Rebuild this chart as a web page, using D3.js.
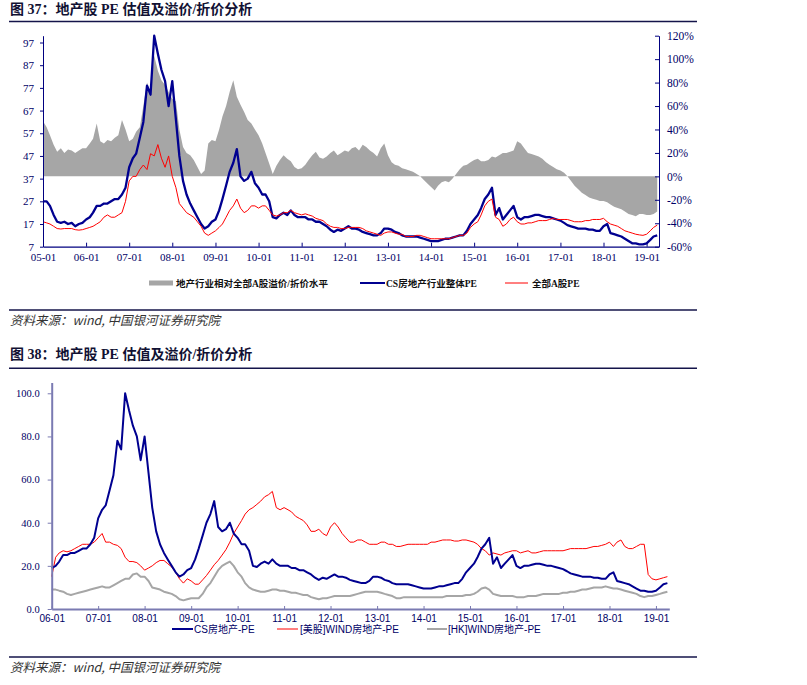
<!DOCTYPE html>
<html><head><meta charset="utf-8">
<script src="https://cdn.jsdelivr.net/npm/d3@7"></script>
<style>
body{margin:0;background:#fff}
svg{display:block}
text{font-kerning:normal}
</style>
</head><body>
<svg id="c" width="807" height="685"></svg>
<script>
// ---------- DATA ----------
// Monthly observations, panel 1 from 2005-01, panel 2 from 2006-01, both to 2019-04
const start1 = new Date(2005, 0, 1);
const start2 = new Date(2006, 0, 1);
const endMonth = new Date(2019, 4, 1);
const months1 = d3.timeMonth.range(start1, endMonth);
const months2 = d3.timeMonth.range(start2, endMonth);

// CS房地产行业整体PE (also "CS房地产-PE" in panel 2)
const csPE = [
  27,27,25,21,18,17.5,18,17,17.5,16,17,17.5,
  19,20,22,25,25,26,26,27,28,28,30,33,
  42,46,48,55,62,78,74,100,92,85,80,69,
  80,63,47,36,30,26,23,20,17,15,16,18,
  19,23,28,34,40,44,50,38,36,37,40,35,
  33,30,30,27,20,19.5,21,22,21,23,21,20,
  20,20,19,19,18,18,17,16,14.5,13.5,14.5,14,
  15,16,15,15,14.5,13.5,13,12.5,12,12,13,15,
  15,14.5,13.5,13,12,11.5,11.5,11.5,11.5,11,10.5,10,
  9.5,9.5,9.5,10,10.5,10.5,11,11.5,12,12,14,17,
  19,21,24,28,30,33,21,24,19,21,23,25,
  20,19,20,20,20.5,21,21,20.5,20,20,19.5,19,
  18.5,17.5,16.5,16,15.5,15,15,15,14.5,14.5,14,14,
  16,17,13,12.5,12,11.5,10.5,9.5,8.5,8.5,8,8,
  8.5,10,11.5,12
];
// 全部A股PE
const allAPE = [
  18,17.5,17,16,15,14.8,15,15,15,14.5,14.3,14.5,
  15,15.5,16,17,18,20,21,20,20,21,22,27,
  36,38,38,41,43,41,48,47,52,46,42,47,
  38,33,26,24,22,21,20,18,16,13,12,13,
  14,15.5,17,20,23,25,28,24,22,23,25,25,
  24,25,25,23,21,20.5,21,22,22,23,22,21.5,
  21,21.5,21,20.5,19.5,19,18.5,17,16,15.5,15.5,15,
  15,15.5,15.5,15.5,15.5,15,14,13.5,13,12.5,12,13,
  13.5,13.5,13,12.5,12.5,11.5,11.5,11.5,12,12,11.5,11,
  10.5,10.5,10.5,10.5,10.5,10.5,11,11.5,12,12,13,15.5,
  17,18,21,25,27,28,20,19,16,17,19,20,
  18,17,17,17.5,17.5,18,18.5,18.5,18.5,19,19.5,19,
  19,19,19,18.5,18,18,18,18.5,18.5,19,19,19,
  19.5,18,17,16.5,16,15,14,13.5,13,12.5,12.2,12,
  12.5,14,15.5,16.5
];
// 地产行业相对全部A股溢价/折价水平 (%)
const premium = [
  47,42,35,27,21,24,20,23,22,20,22,24,
  24,28,32,45,30,28,31,30,33,35,48,40,
  30,32,38,42,60,80,72,103,90,82,78,72,
  66,64,40,25,20,18,14,8,2,5,28,31,
  30,40,51,60,72,82,68,61,55,48,45,40,
  35,28,20,11,2,9,14,18,15,13,8,6,
  7,10,14,18,21,16,15,17,20,22,18,20,
  22,21,24,25,22,27,25,22,20,17,24,28,
  18,12,10,9,7,6,5,4,2,0,-3,-6,
  -9,-12,-8,-5,-4,-5,-2,2,6,9,10,12,
  14,15,13,13,14,17,16,18,20,20,21,22,
  30,28,24,20,19,18,17,15,12,10,8,6,
  5,3,0,-4,-8,-11,-14,-16,-18,-19,-20,-21,
  -21,-22,-24,-26,-27,-28,-30,-32,-33,-34,-32,-32,
  -33,-33,-32,-30
];
// [美股]WIND房地产-PE
const usPE = [
  15,24,26,27,26.5,27,28,29,30,30,30,31,
  33,35,31,31,30,29.5,28,24,22,22,21.5,20,
  18,19,20,21.5,22.5,22.5,21,19.5,17,14,12,14,
  13,11.5,11.5,13.5,15.5,18,20.5,22.5,25,27.5,31,35,
  38,41,44,46,47,48.5,50,52,53,54.5,47,46,
  47,46,45,43,42,41,39,36,36,37,35,34,
  38,40,38,35,33,31,31,32,32,31,30,30,
  30,31,31,30,30,29,29,29.5,30,30,30,30,
  30,30,31,31,31.5,32,32,32,31.5,31.5,32,32,
  31.5,31,30,28,27,25,26,25.5,25,26,26.5,27,
  27,26,26.5,27,26,26,26.5,27,27,27,27,27,
  27,27.5,28,28,28,28,28,28.5,29,29,29.5,30,
  31,29,31,32,29,28,28,29,30,30,16,14,
  13.5,14,14.5,15
];
// [HK]WIND房地产-PE
const hkPE = [
  9,9,8.5,8,7,6.5,7,7.5,8,8.5,9,9.5,
  10,10.5,10,10,11,12,13,14,14,16,16.5,15,
  15,13,10,9.5,9,8,7.5,7,6,4.5,4,4.5,
  5,5,5,7,10,12,15,18,20,21,22,20,
  17,15,12,10,9,8.5,8,8,8.5,9,9,8.5,
  8.5,8,7.5,7.5,7,6.5,6.5,5.5,5,4.5,5,5,
  5.5,6,6,6,6,6,6.5,7,7.5,8,8,8,
  8,7.5,7,6.5,6,5,5,5.5,5.5,5.5,5.5,5.5,
  5.5,5.5,5.5,5.5,5.5,5.5,6,6,6,6,6,6.5,
  6.5,7,8,9.5,10,9,7,6.5,6,6,6,6,
  5.5,5.5,5.5,6,6,6,6.5,7,7,7,7,7,
  7.5,7.5,8,8,8.5,9,9,9.5,10,10,10,10.5,
  10,9.5,9.5,9,8.5,8,7.5,7,6,5.5,6,6,
  6.5,7,7.5,8
];

const leftTicks1 = [7,17,27,37,47,57,67,77,87,97];
const rightTicks1 = [-60,-40,-20,0,20,40,60,80,100,120];
const yTicks2 = [0,20,40,60,80,100];
const yearTicks1 = d3.range(2005, 2020).map(y => new Date(y,0,1));
const yearTicks2 = d3.range(2006, 2020).map(y => new Date(y,0,1));

const title1 = "图 37：地产股 PE 估值及溢价/折价分析";
const title2 = "图 38：地产股 PE 估值及溢价/折价分析";
const sourceText = "资料来源：wind, 中国银河证券研究院";
const legend1 = ["地产行业相对全部A股溢价/折价水平", "CS房地产行业整体PE", "全部A股PE"];
const legend2 = ["CS房地产-PE", "[美股]WIND房地产-PE", "[HK]WIND房地产-PE"];

// ---------- DRAW ----------
const svg = d3.select("#c");
const NAVY = "#000080";
const BLUE = "#000090";
const RED = "#ff0000";
const GRAY = "#a6a6a6";
const CJK = "'Liberation Serif','Noto Sans CJK SC',serif";
const SANS = "'Liberation Sans','Noto Sans CJK SC',sans-serif";
const fmtX = d3.timeFormat("%y-%m");

function header(t, y, lineY) {
  svg.append("text").attr("x", 10).attr("y", y).text(t)
    .attr("font-family", CJK).attr("font-weight", "bold").attr("font-size", 14).attr("fill", "#111133");
  svg.append("line").attr("x1", 9).attr("x2", 697).attr("y1", lineY).attr("y2", lineY)
    .attr("stroke", "#14144a").attr("stroke-width", 1.5);
}
function footer(lineY, textY) {
  svg.append("line").attr("x1", 9).attr("x2", 697).attr("y1", lineY).attr("y2", lineY)
    .attr("stroke", "#14144a").attr("stroke-width", 1.5);
  svg.append("text").attr("x", 10).attr("y", textY).text(sourceText)
    .attr("font-family", "'Noto Sans CJK SC',sans-serif").attr("font-style", "italic")
    .attr("font-size", 12.5).attr("fill", "#333");
}

// ===== Panel 1 =====
header(title1, 13.5, 21.5);
const p1 = {l: 43, r: 659, t: 35.7, b: 246.7};
const x1 = d3.scaleTime().domain([start1, new Date(2019,3,16)]).range([p1.l, p1.r]);
const yL = d3.scaleLinear().domain([7, 100]).range([p1.b, p1.t]);
const yR = d3.scaleLinear().domain([-60, 120]).range([p1.b, p1.t]);

const d1 = months1.map((m,i) => ({date: m, cs: csPE[i], a: allAPE[i], p: premium[i]}));

svg.append("path").datum(d1)
  .attr("d", d3.area().x(d => x1(d.date)).y0(yR(0)).y1(d => yR(d.p)))
  .attr("fill", GRAY);
svg.append("path").datum(d1)
  .attr("d", d3.line().x(d => x1(d.date)).y(d => yL(d.cs)))
  .attr("fill", "none").attr("stroke", BLUE).attr("stroke-width", 2.3).attr("stroke-linejoin", "round");
svg.append("path").datum(d1)
  .attr("d", d3.line().x(d => x1(d.date)).y(d => yL(d.a)))
  .attr("fill", "none").attr("stroke", RED).attr("stroke-width", 1).attr("stroke-linejoin", "round");

function styleAxis(g, color, fam, size, width) {
  g.select(".domain").attr("stroke", color).attr("stroke-width", width);
  g.selectAll(".tick line").attr("stroke", color).attr("stroke-width", 1);
  g.selectAll(".tick text").attr("fill", "#000066").attr("font-family", fam).attr("font-size", size);
}
const gL = svg.append("g").attr("transform", `translate(${p1.l},0)`)
  .call(d3.axisLeft(yL).tickValues(leftTicks1).tickSizeInner(3).tickSizeOuter(0).tickPadding(6));
styleAxis(gL, NAVY, "'Liberation Serif',serif", 11, 1);
const gR = svg.append("g").attr("transform", `translate(${p1.r},0)`)
  .call(d3.axisRight(yR).tickValues(rightTicks1).tickFormat(d => d + "%").tickSizeInner(-4).tickSizeOuter(0).tickPadding(8));
styleAxis(gR, NAVY, "'Liberation Serif',serif", 11.5, 1);
const gB = svg.append("g").attr("transform", `translate(0,${p1.b})`)
  .call(d3.axisBottom(x1).tickValues(yearTicks1).tickFormat(fmtX).tickSizeInner(-4).tickSizeOuter(0).tickPadding(6.5));
styleAxis(gB, NAVY, "'Liberation Serif',serif", 11, 1.2);

// legend 1
const lg1y = 283;
svg.append("rect").attr("x", 149).attr("y", lg1y - 2.5).attr("width", 24).attr("height", 5).attr("fill", GRAY);
svg.append("text").attr("x", 176).attr("y", lg1y + 3.5).text(legend1[0])
  .attr("font-family", CJK).attr("font-weight", "bold").attr("font-size", 9.5).attr("fill", "#111");
svg.append("line").attr("x1", 360).attr("x2", 385).attr("y1", lg1y).attr("y2", lg1y)
  .attr("stroke", BLUE).attr("stroke-width", 2);
svg.append("text").attr("x", 386).attr("y", lg1y + 3.5).text(legend1[1])
  .attr("font-family", CJK).attr("font-weight", "bold").attr("font-size", 9.5).attr("fill", "#111");
svg.append("line").attr("x1", 505).attr("x2", 528).attr("y1", lg1y).attr("y2", lg1y)
  .attr("stroke", RED).attr("stroke-width", 1);
svg.append("text").attr("x", 532).attr("y", lg1y + 3.5).text(legend1[2])
  .attr("font-family", CJK).attr("font-weight", "bold").attr("font-size", 9.5).attr("fill", "#111");

footer(310, 325);

// ===== Panel 2 =====
header(title2, 359, 368.3);
const p2 = {l: 51.7, r: 669.3, t: 382.5, b: 609};
const x2 = d3.scaleTime().domain([start2, new Date(2019,3,16)]).range([p2.l, p2.r]);
const y2 = d3.scaleLinear().domain([0, 105]).range([p2.b, p2.t]);
const cs2 = csPE.slice(months1.length - months2.length);
const d2 = months2.map((m,i) => ({date: m, cs: cs2[i], us: usPE[i], hk: hkPE[i]}));

const line2 = key => d3.line().x(d => x2(d.date)).y(d => y2(d[key]));
svg.append("path").datum(d2).attr("d", line2("hk"))
  .attr("fill", "none").attr("stroke", GRAY).attr("stroke-width", 2).attr("stroke-linejoin", "round");
svg.append("path").datum(d2).attr("d", line2("us"))
  .attr("fill", "none").attr("stroke", RED).attr("stroke-width", 1).attr("stroke-linejoin", "round");
svg.append("path").datum(d2).attr("d", line2("cs"))
  .attr("fill", "none").attr("stroke", BLUE).attr("stroke-width", 2).attr("stroke-linejoin", "round");

const AX2 = "#7a7ab2";
const g2L = svg.append("g").attr("transform", `translate(${p2.l},0)`)
  .call(d3.axisLeft(y2).tickValues(yTicks2).tickFormat(d3.format(".1f")).tickSizeInner(4).tickSizeOuter(0).tickPadding(8));
styleAxis(g2L, AX2, "'Liberation Serif',serif", 10.5, 2);
const g2B = svg.append("g").attr("transform", `translate(0,${p2.b})`)
  .call(d3.axisBottom(x2).tickValues(yearTicks2).tickFormat(fmtX).tickSizeInner(-3).tickSizeOuter(0).tickPadding(6));
styleAxis(g2B, AX2, SANS, 10, 2);

// legend 2
const lg2y = 629;
const lg2 = [
  {x1: 172, x2: 193, tx: 194, color: BLUE, w: 2},
  {x1: 277, x2: 298, tx: 300, color: RED, w: 1},
  {x1: 427, x2: 447, tx: 448, color: GRAY, w: 2}
];
lg2.forEach((L, i) => {
  svg.append("line").attr("x1", L.x1).attr("x2", L.x2).attr("y1", lg2y).attr("y2", lg2y)
    .attr("stroke", L.color).attr("stroke-width", L.w);
  svg.append("text").attr("x", L.tx).attr("y", lg2y + 4).text(legend2[i])
    .attr("font-family", SANS).attr("font-size", 10).attr("fill", "#000066");
});

footer(657, 672);
</script>
</body></html>
